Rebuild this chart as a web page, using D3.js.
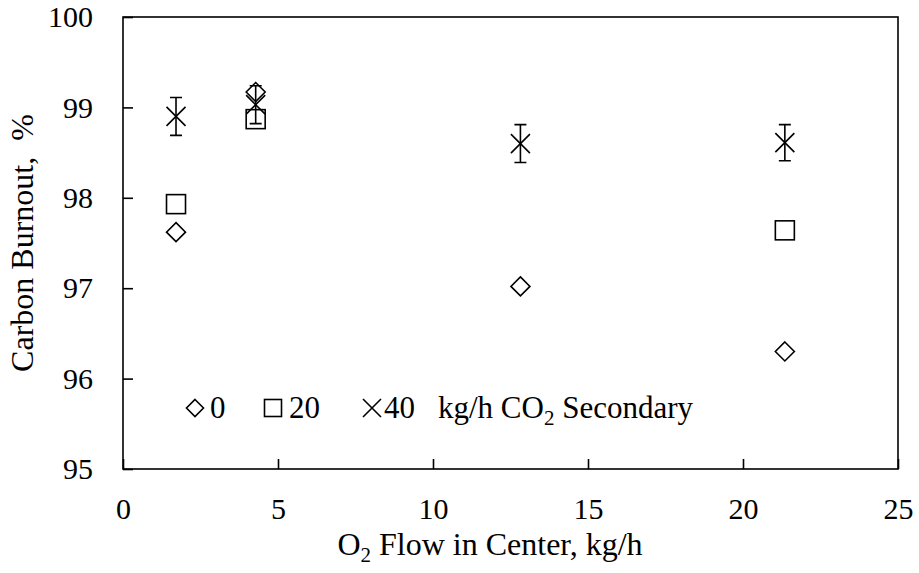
<!DOCTYPE html>
<html lang="en">
<head>
    <meta charset="UTF-8">
    <title>Carbon Burnout vs O2 Flow</title>
    <script src="https://d3js.org/d3.v7.min.js"></script>
    <style>
        body { margin: 0; background: #fff; }
        text { font-family: "Liberation Serif", "Times New Roman", serif; fill: #000; }
    </style>
</head>
<body>
    <svg width="919" height="573"></svg>
    <script>
        // data
        const o2Flow = [1.71, 4.28, 12.82, 21.35];
        const burnout0 = [97.62, 99.17, 97.02, 96.30];
        const burnout20 = [97.93, 98.87, null, 97.64];
        const burnout40 = [98.90, 99.03, 98.60, 98.61];
        const err40 = [0.21, 0.21, 0.21, 0.2];
        const xTicks = [0, 5, 10, 15, 20, 25];
        const yTicks = [95, 96, 97, 98, 99, 100];

        const serif = '"Liberation Serif", "Times New Roman", serif';
        const svg = d3.select("svg");
        const plotLeft = 123, plotRight = 898, plotTop = 17, plotBottom = 469;

        const x = d3.scaleLinear().domain([0, 25]).range([plotLeft, plotRight]);
        const y = d3.scaleLinear().domain([95, 100]).range([plotBottom, plotTop]);

        // frame
        svg.append("rect")
            .attr("x", plotLeft).attr("y", plotTop)
            .attr("width", plotRight - plotLeft).attr("height", plotBottom - plotTop)
            .attr("fill", "none").attr("stroke", "#000").attr("stroke-width", 1.6);

        // axes with inward ticks
        const xAxis = svg.append("g")
            .attr("transform", `translate(0,${plotBottom})`)
            .call(d3.axisBottom(x).tickValues(xTicks).tickFormat(d3.format("d"))
                .tickSizeInner(-10).tickSizeOuter(0).tickPadding(20));
        const yAxis = svg.append("g")
            .attr("transform", `translate(${plotLeft},0)`)
            .call(d3.axisLeft(y).tickValues(yTicks).tickFormat(d3.format("d"))
                .tickSizeInner(-10).tickSizeOuter(0).tickPadding(30));
        [xAxis, yAxis].forEach(a => {
            a.attr("font-family", serif).attr("font-size", 30);
            a.select(".domain").remove();
            a.selectAll("line").attr("stroke", "#000").attr("stroke-width", 1.6);
            a.selectAll("text").attr("fill", "#000");
        });
        xAxis.selectAll("text").attr("dy", null).attr("y", 50);

        // axis titles
        const xt = svg.append("text")
            .attr("x", 490).attr("y", 555)
            .attr("text-anchor", "middle").style("font-size", "32px");
        xt.append("tspan").text("O");
        xt.append("tspan").attr("dy", 7).style("font-size", "21px").text("2");
        xt.append("tspan").attr("dy", -7).text(" Flow in Center, kg/h");

        svg.append("text")
            .attr("transform", "translate(33,243) rotate(-90)")
            .attr("text-anchor", "middle").style("font-size", "32px")
            .text("Carbon Burnout,\u00a0 %");

        // marker shapes
        function diamond(g, cx, cy, s) {
            g.append("path")
                .attr("d", `M${cx},${cy - s}L${cx + s},${cy}L${cx},${cy + s}L${cx - s},${cy}Z`)
                .attr("fill", "none").attr("stroke", "#000").attr("stroke-width", 1.6);
        }
        function square(g, cx, cy, s) {
            g.append("rect")
                .attr("x", cx - s).attr("y", cy - s).attr("width", 2 * s).attr("height", 2 * s)
                .attr("fill", "none").attr("stroke", "#000").attr("stroke-width", 1.6);
        }
        function cross(g, cx, cy, s) {
            g.append("path")
                .attr("d", `M${cx - s},${cy - s}L${cx + s},${cy + s}M${cx - s},${cy + s}L${cx + s},${cy - s}`)
                .attr("fill", "none").attr("stroke", "#000").attr("stroke-width", 1.6);
        }

        const marks = svg.append("g");

        // series 40 error bars
        o2Flow.forEach((f, i) => {
            const cx = x(f);
            const y1 = y(burnout40[i] + err40[i]), y2 = y(burnout40[i] - err40[i]);
            marks.append("path")
                .attr("d", `M${cx},${y1}V${y2}M${cx - 6},${y1}H${cx + 6}M${cx - 6},${y2}H${cx + 6}`)
                .attr("fill", "none").attr("stroke", "#000").attr("stroke-width", 1.6);
        });

        o2Flow.forEach((f, i) => {
            if (burnout20[i] != null) square(marks, x(f), y(burnout20[i]), 9.5);
        });
        o2Flow.forEach((f, i) => diamond(marks, x(f), y(burnout0[i]), 9.5));
        o2Flow.forEach((f, i) => cross(marks, x(f), y(burnout40[i]), 9.5));

        // legend
        const leg = svg.append("g");
        const ly = 418;
        diamond(leg, 195, 408, 8.5);
        leg.append("text").attr("x", 210).attr("y", ly).style("font-size", "31px").text("0");
        square(leg, 273, 408, 8.5);
        leg.append("text").attr("x", 289).attr("y", ly).style("font-size", "31px").text("20");
        cross(leg, 372, 408, 9);
        leg.append("text").attr("x", 384).attr("y", ly).style("font-size", "31px").text("40");
        const lt = leg.append("text").attr("x", 438).attr("y", ly).style("font-size", "31px");
        lt.append("tspan").text("kg/h CO");
        lt.append("tspan").attr("dy", 7).style("font-size", "21px").text("2");
        lt.append("tspan").attr("dy", -7).text(" Secondary");
    </script>
</body>
</html>
